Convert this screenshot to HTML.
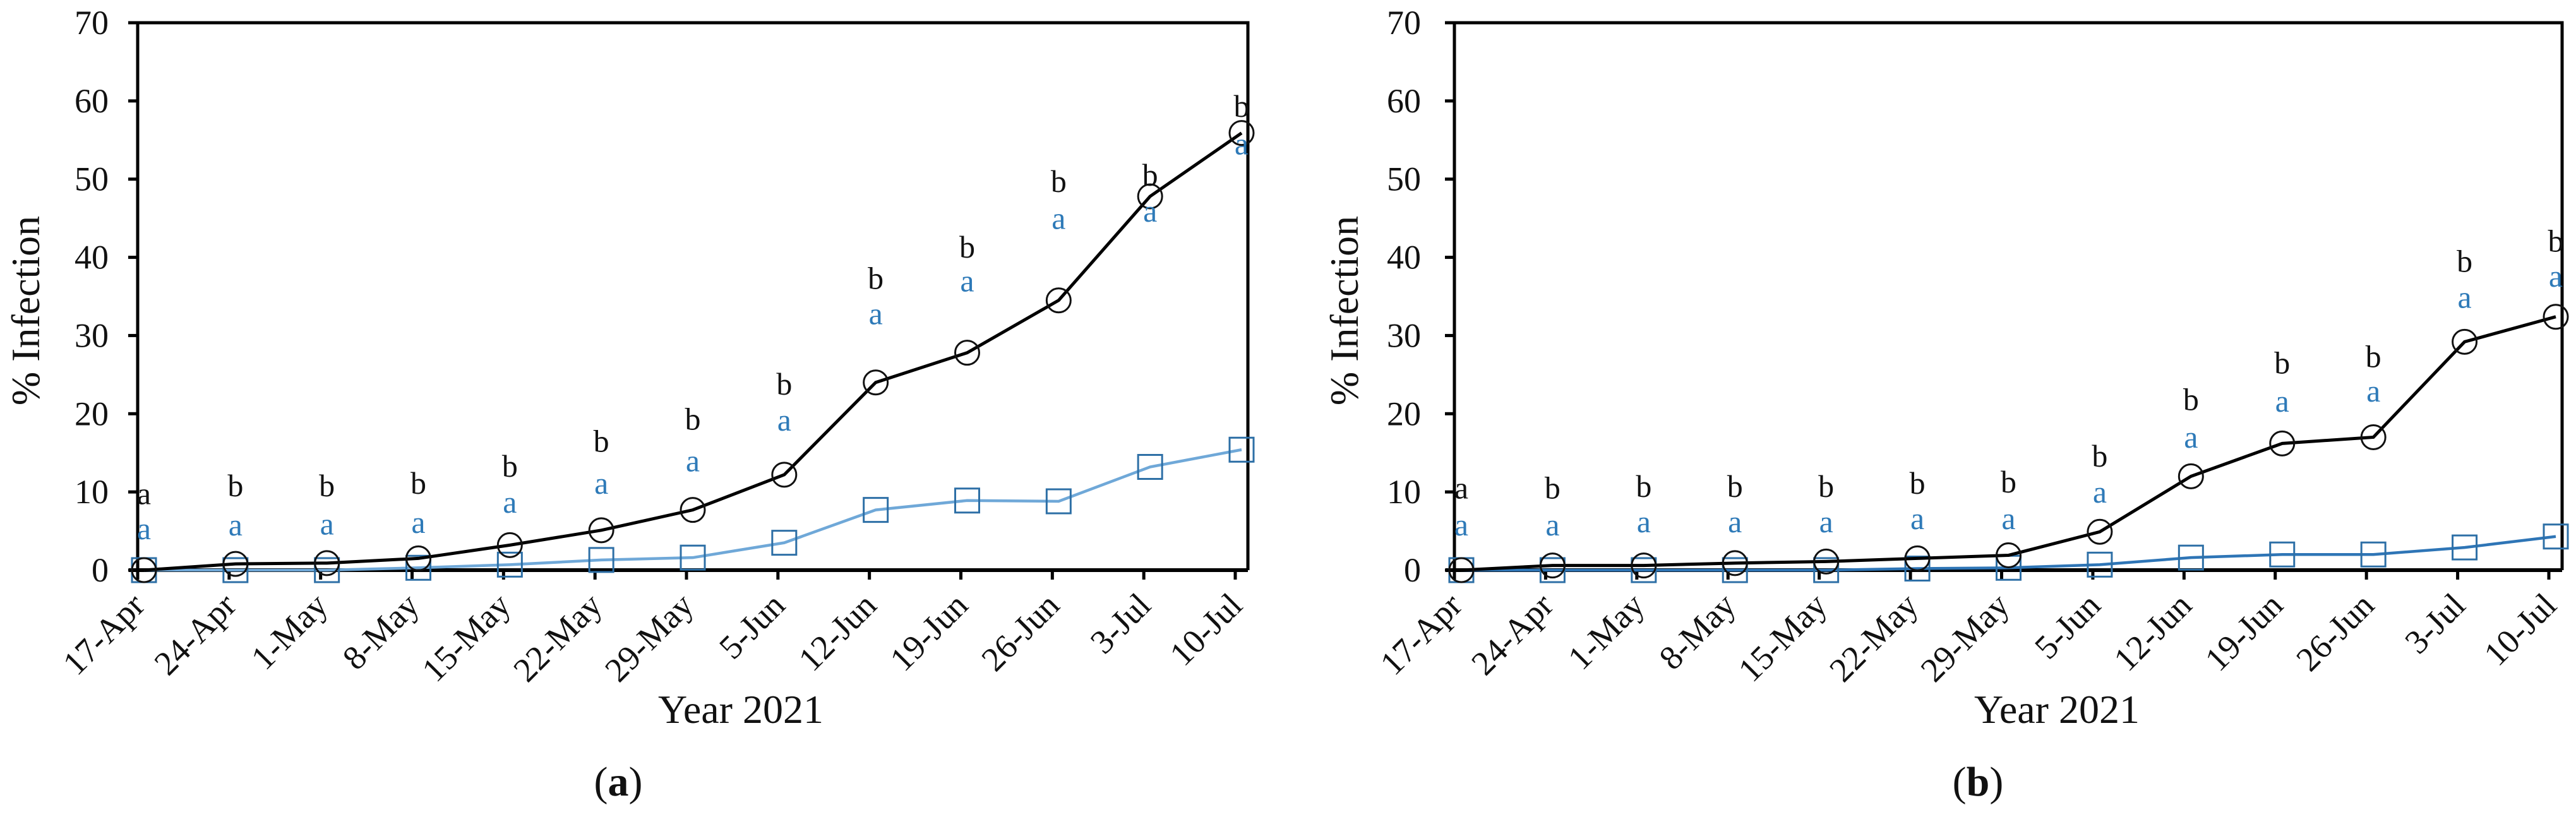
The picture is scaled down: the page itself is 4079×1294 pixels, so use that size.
<!DOCTYPE html>
<html><head><meta charset="utf-8"><style>
html,body{margin:0;padding:0;background:#fff;}
svg{display:block;font-family:"Liberation Serif",serif;}
</style></head><body>
<svg id="chart" width="4079" height="1294" viewBox="0 0 4079 1294" xmlns="http://www.w3.org/2000/svg"></svg>
<script>
const categories=["17-Apr","24-Apr","1-May","8-May","15-May","22-May","29-May","5-Jun","12-Jun","19-Jun","26-Jun","3-Jul","10-Jul"];
const yTicks=[0,10,20,30,40,50,60,70];
const aBlack=[0,0.8,0.9,1.5,3.2,5.1,7.7,12.2,24,27.8,34.5,47.8,55.9];
const aBlue=[0,0,0,0.3,0.7,1.3,1.6,3.5,7.7,8.9,8.8,13.2,15.4];
const aTopLetters=["a","b","b","b","b","b","b","b","b","b","b","b","b"];
const aTopPos=[9.5,10.5,10.5,10.8,13,16.2,19,23.5,37,41,49.4,50.2,59];
const aLowPos=[5,5.5,5.6,5.8,8.4,10.8,13.7,18.9,32.5,36.7,44.7,45.6,54.2];
const bBlack=[0,0.6,0.6,0.9,1.1,1.5,1.9,4.9,12,16.2,17,29.2,32.4];
const bBlue=[0,0,0,0,0,0.2,0.3,0.7,1.6,2,2,2.9,4.3];
const bTopLetters=["a","b","b","b","b","b","b","b","b","b","b","b","b"];
const bTopPos=[10.2,10.2,10.4,10.4,10.4,10.8,11,14.3,21.5,26.2,27,39.2,41.8];
const bLowPos=[5.5,5.5,5.9,5.9,5.9,6.3,6.3,9.7,16.7,21.3,22.6,34.6,37.3];

const NS="http://www.w3.org/2000/svg";
const svg=document.getElementById('chart');
function mk(tag,attrs,parent){const e=document.createElementNS(NS,tag);for(const k in attrs)e.setAttribute(k,attrs[k]);(parent||svg).appendChild(e);return e;}

function panel(cfg){
  const g=mk('g',{});
  
  
  const X0=cfg.axisX, R=cfg.rightX, Y0=903, Y70=36;
  const yS=v=>Y0-(v/70)*(Y0-Y70);
  const step=(cfg.lastX-cfg.firstX)/(categories.length-1);
  const xS=i=>cfg.firstX+i*step;
  const frame=mk('path',{d:`M${X0},${Y0} L${X0},${Y70} L${R},${Y70} L${R},${Y0}`,fill:'none',stroke:'#000','stroke-width':5},g);
  
  
  const xa=mk('line',{x1:X0-14,y1:Y0,x2:R,y2:Y0,stroke:'#000','stroke-width':6},g);
  
  
  yTicks.forEach(t=>{
    const y=yS(t);
    const tk=mk('line',{x1:X0-15,y1:y,x2:X0,y2:y,stroke:'#000','stroke-width':5},g);
    
    
    const tl=mk('text',{x:X0-cfg.labelGap,y:y+18,'text-anchor':'end','font-size':54,fill:'#111'},g);
    tl.textContent=t;
    
    
  });
  categories.forEach((c,i)=>{
    const tx=X0+i*step;
    const tk=mk('line',{x1:tx,y1:Y0,x2:tx,y2:Y0+15,stroke:'#000','stroke-width':5},g);
    
    
    const lx=xS(i)+4, ly=962;
    const tl=mk('text',{x:lx,y:ly,'text-anchor':'end','font-size':54,fill:'#111',transform:`rotate(-45 ${lx} ${ly})`},g);
    tl.textContent=c;
    
    
  });
  const bluePts=cfg.blue.map((v,i)=>`${xS(i)},${yS(v)}`).join(' ');
  const bl=mk('polyline',{points:bluePts,fill:'none',stroke:cfg.blueLine,'stroke-width':4.5},g);
  
  
  cfg.blue.forEach((v,i)=>{
    const s=mk('rect',{x:xS(i)-19,y:yS(v)-19,width:38,height:38,fill:'none',stroke:'#2d6fa6','stroke-width':3},g);
    
    
  });
  const blkPts=cfg.black.map((v,i)=>`${xS(i)},${yS(v)}`).join(' ');
  const kl=mk('polyline',{points:blkPts,fill:'none',stroke:'#000','stroke-width':5},g);
  
  
  cfg.black.forEach((v,i)=>{
    const c=mk('circle',{cx:xS(i),cy:yS(v),r:19,fill:'none',stroke:'#111','stroke-width':3},g);
    
    
  });
  cfg.topL.forEach((l,i)=>{
    const t=mk('text',{x:xS(i),y:yS(cfg.topP[i])+13,'text-anchor':'middle','font-size':50,fill:'#111'},g);
    t.textContent=l;
    
    
    const t2=mk('text',{x:xS(i),y:yS(cfg.lowP[i])+13,'text-anchor':'middle','font-size':50,fill:'#2e7ab8'},g);
    t2.textContent='a';
    
    
  });
  const yt=mk('text',{x:cfg.yTitleX,y:492,'text-anchor':'middle','font-size':64,fill:'#111',transform:`rotate(-90 ${cfg.yTitleX} 492)`},g);
  yt.textContent='% Infection';
  
  
  const xt=mk('text',{x:cfg.xTitleX,y:1145,'text-anchor':'middle','font-size':64,fill:'#111'},g);
  xt.textContent='Year 2021';
  
  
  const pl=mk('text',{x:cfg.panelX,y:1260,'text-anchor':'middle','font-size':66,fill:'#111'},g);
  pl.innerHTML='(<tspan font-weight="bold">'+cfg.tag+'</tspan>)';
  
  
}
panel({name:'panel-a',axisX:218,rightX:1976,firstX:228,lastX:1966,black:aBlack,blue:aBlue,topL:aTopLetters,topP:aTopPos,lowP:aLowPos,blueLine:'#6fa8d8',labelGap:46,yTitleX:62,xTitleX:1173,panelX:979,tag:'a'});
panel({name:'panel-b',axisX:2303,rightX:4057,firstX:2314,lastX:4047,black:bBlack,blue:bBlue,topL:bTopLetters,topP:bTopPos,lowP:bLowPos,blueLine:'#2e75b6',labelGap:53,yTitleX:2150,xTitleX:3257,panelX:3132,tag:'b'});
</script>
</body></html>
